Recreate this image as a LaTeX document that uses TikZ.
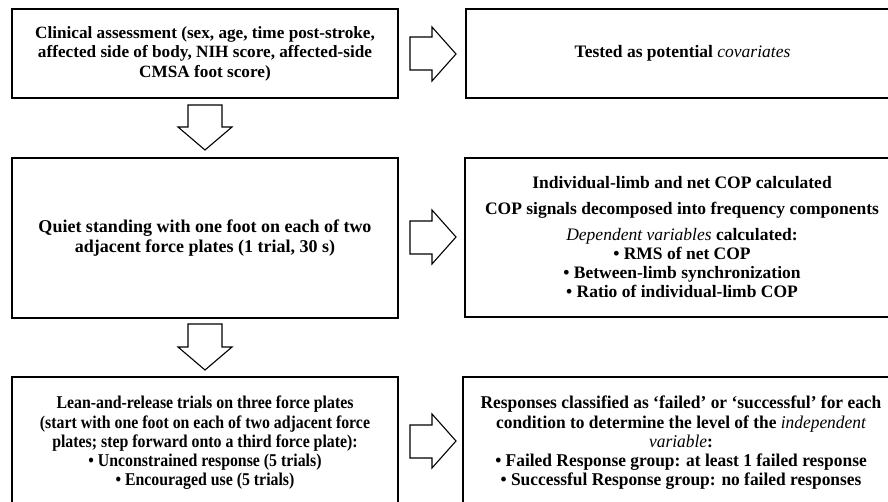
\documentclass[tikz,border=0pt]{standalone}
\usepackage{fontspec}
\setmainfont{Liberation Serif}
\newfontfamily\leanfont[FakeStretch=0.88]{Liberation Serif}
\newfontfamily\respfont[FakeStretch=0.967]{Liberation Serif}
\begin{document}
\begin{tikzpicture}[x=1pt,y=-1pt,
  box/.style={draw, line width=2.6pt, rectangle, inner sep=0pt, align=center,
    font=\bfseries\fontsize{17.2}{19.5}\selectfont},
  blockarrow/.style={draw, line width=1.1pt, fill=white, line join=miter}]
\useasboundingbox (0,0) rectangle (888,502);
\clip (0,0) rectangle (888,502);
% left column
\node[box, minimum width=386pt, minimum height=89pt] (clin) at (205,53.5)
  {Clinical assessment (sex, age, time post-stroke,\\ affected side of body, NIH score, affected-side\\ CMSA foot score)};
\node[box, minimum width=386pt, minimum height=160pt,
  font=\bfseries\fontsize{18}{19.5}\selectfont] (quiet) at (205,238)
  {Quiet standing with one foot on each of two\\ adjacent force plates (1 trial, 30 s)};
\node[box, minimum width=386pt, minimum height=132pt,
  font=\leanfont\bfseries\fontsize{18}{19.2}\selectfont] (lean) at (205,443)
  {Lean-and-release trials on three force plates\\ (start with one foot on each of two adjacent force\\ plates; step forward onto a third force plate):\\ • Unconstrained response (5 trials)\\ • Encouraged use (5 trials)};
% right column
\node[box, minimum width=433pt, minimum height=89pt,
  font=\bfseries\fontsize{17.5}{19.5}\selectfont] (cov) at (682.5,53.5)
  {Tested as potential {\mdseries\itshape covariates}};
\node[box, minimum width=434pt, minimum height=159pt,
  font=\bfseries\fontsize{17.5}{19}\selectfont] (cop) at (682,237.5)
  {Individual-limb and net COP calculated\\[7pt] COP signals decomposed into frequency components\\[7pt] {\mdseries\itshape Dependent variables} calculated:\\ • RMS of net COP\\ • Between-limb synchronization\\ • Ratio of individual-limb COP};
\node[box, minimum width=436pt, minimum height=132pt,
  font=\respfont\bfseries\fontsize{18}{19.2}\selectfont] (resp) at (681,443)
  {Responses classified as ‘failed’ or ‘successful’ for each\\ condition to determine the level of the {\mdseries\itshape independent}\\ {\mdseries\itshape variable}:\\ • Failed Response group: at least 1 failed response\\ • Successful Response group: no failed responses};
% down arrows
\draw[blockarrow] (188,105) -- (222,105) -- (222,127) -- (232,127) -- (205,150) -- (178,127) -- (188,127) -- cycle;
\draw[blockarrow] (188,324) -- (222,324) -- (222,347) -- (232,347) -- (205,370) -- (178,347) -- (188,347) -- cycle;
% right arrows
\draw[blockarrow] (410,37) -- (432,37) -- (432,27) -- (456,54) -- (432,81) -- (432,70) -- (410,70) -- cycle;
\draw[blockarrow] (410,221) -- (432,221) -- (432,210) -- (456,237) -- (432,264) -- (432,254) -- (410,254) -- cycle;
\draw[blockarrow] (410,425) -- (432,425) -- (432,414) -- (456,441) -- (432,468) -- (432,458) -- (410,458) -- cycle;
\end{tikzpicture}
\end{document}
